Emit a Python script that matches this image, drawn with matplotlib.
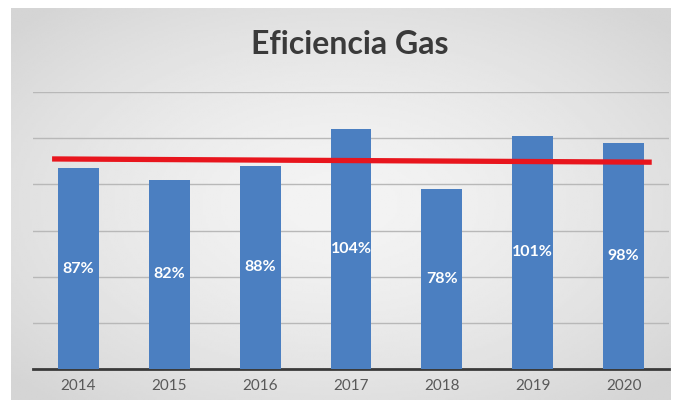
import numpy as np
import matplotlib
matplotlib.use('Agg')
import matplotlib.pyplot as plt

# datos
years = ['2014', '2015', '2016', '2017', '2018', '2019', '2020']
eficiencia = [87, 82, 88, 104, 78, 101, 98]
meta_inicio = 91.0   # linea roja, extremo izquierdo
meta_fin = 89.6      # linea roja, extremo derecho

plt.rcParams['font.family'] = ['Lato', 'DejaVu Sans']

fig = plt.figure(figsize=(6.81, 4.11), dpi=100)
fig.patch.set_facecolor('white')

# fondo con degradado (claro en el centro, gris en los bordes)
bg = fig.add_axes([11 / 681, 11 / 411, 660 / 681, 392 / 411])
gx, gy = np.meshgrid(np.linspace(-1, 1, 300), np.linspace(-1, 1, 200))
r = np.clip(np.sqrt((gx * 0.75) ** 2 + (gy * 0.75) ** 2), 0, 1.0)
bg.imshow(0.955 - 0.12 * r ** 1.5, cmap='gray', vmin=0, vmax=1, aspect='auto')
bg.set_axis_off()

ax = fig.add_axes([33 / 681, 42 / 411, 636 / 681, 277 / 411])
ax.patch.set_alpha(0)
x = np.arange(len(years))
ax.bar(x, eficiencia, width=0.45, color='#4b7fc1', zorder=3)

for xi, v in zip(x, eficiencia):
    ax.text(xi, v / 2, f'{v}%', ha='center', va='center', color='white',
            fontsize=11.5, fontweight='bold', zorder=5)

ax.plot([-0.29, 6.31], [meta_inicio, meta_fin], color='#e8151d',
        linewidth=3.8, solid_capstyle='butt', zorder=4)

ax.set_xlim(-0.5, 6.5)
ax.set_ylim(0, 120)
ax.set_yticks([20, 40, 60, 80, 100, 120])
ax.yaxis.grid(True, color='#b8b8b8', linewidth=1.0, zorder=0)
ax.tick_params(axis='y', left=False, labelleft=False)
ax.set_xticks(x)
ax.set_xticklabels(years, fontsize=11, color='#595959')
ax.tick_params(axis='x', length=0, pad=7)
for s in ['top', 'right', 'left']:
    ax.spines[s].set_visible(False)
ax.spines['bottom'].set_color('#3a3a3a')
ax.spines['bottom'].set_linewidth(2)

fig.text(0.513, 0.892, 'Eficiencia Gas', ha='center', va='center',
         fontsize=23, fontweight='bold', color='#3a3a3a')

fig.savefig('out.png', dpi=100)
